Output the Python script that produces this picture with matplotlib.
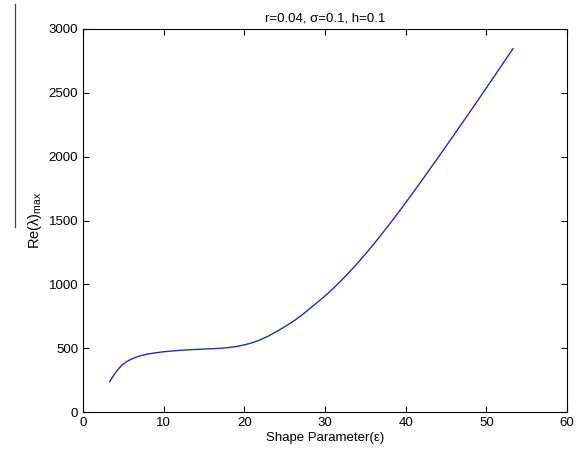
import matplotlib
matplotlib.use('Agg')
from matplotlib import pyplot as plt
from matplotlib.lines import Line2D

# values
shape_param = [3.3, 3.8, 4.3, 4.8, 5.4, 6.0, 7.0, 8.0, 9.0, 10.0, 11.0, 12.0, 13.0, 14.0,
               15.0, 16.0, 17.0, 18.0, 19.0, 20.0, 21.0, 22.0, 23.0, 24.0, 25.0,
               26.0, 27.0, 28.0, 29.0, 30.0, 31.0, 32.0, 33.0, 34.0, 36.0, 38.0, 40.0,
               42.0, 44.0, 46.0, 48.0, 50.0, 52.0, 53.3]
re_lambda_max = [240, 289, 332, 368, 396, 416, 440, 455, 465, 473, 479, 484, 488, 491,
                 494, 497, 500, 506, 514, 527, 544, 567, 597, 632, 669,
                 708, 754, 805, 857, 910, 968, 1030, 1096, 1164, 1312, 1472, 1640,
                 1814, 1992, 2172, 2354, 2538, 2724, 2845]

plt.rcParams['font.family'] = ['Liberation Sans', 'DejaVu Sans']
plt.rcParams['mathtext.default'] = 'regular'

fig = plt.figure(figsize=(5.81, 4.58), dpi=100)
ax = fig.add_axes([0.143, 0.100, 0.833, 0.837])

ax.plot(shape_param, re_lambda_max, color='#2a2ab0', linewidth=1.0)

ax.set_xlim(0, 60)
ax.set_ylim(0, 3000)
ax.set_xticks(range(0, 61, 10))
ax.set_yticks(range(0, 3001, 500))
ax.tick_params(direction='in', top=True, right=True, labelsize=9.5, length=4, width=0.8)
for s in ax.spines.values():
    s.set_linewidth(0.8)

ax.set_title('r=0.04, σ=0.1, h=0.1', fontsize=9.5, pad=5)
ax.set_xlabel('Shape Parameter(ε)', fontsize=9.5, labelpad=2)
ax.set_ylabel('Re(λ)$_{max}$', fontsize=10.5, labelpad=3)

# stray vertical line at the far left of the reference image
fig.add_artist(Line2D([15 / 581, 15 / 581], [1 - 4 / 458, 1 - 227 / 458],
                      transform=fig.transFigure, color='#444444', linewidth=0.9))

fig.savefig('out.png', dpi=100)
